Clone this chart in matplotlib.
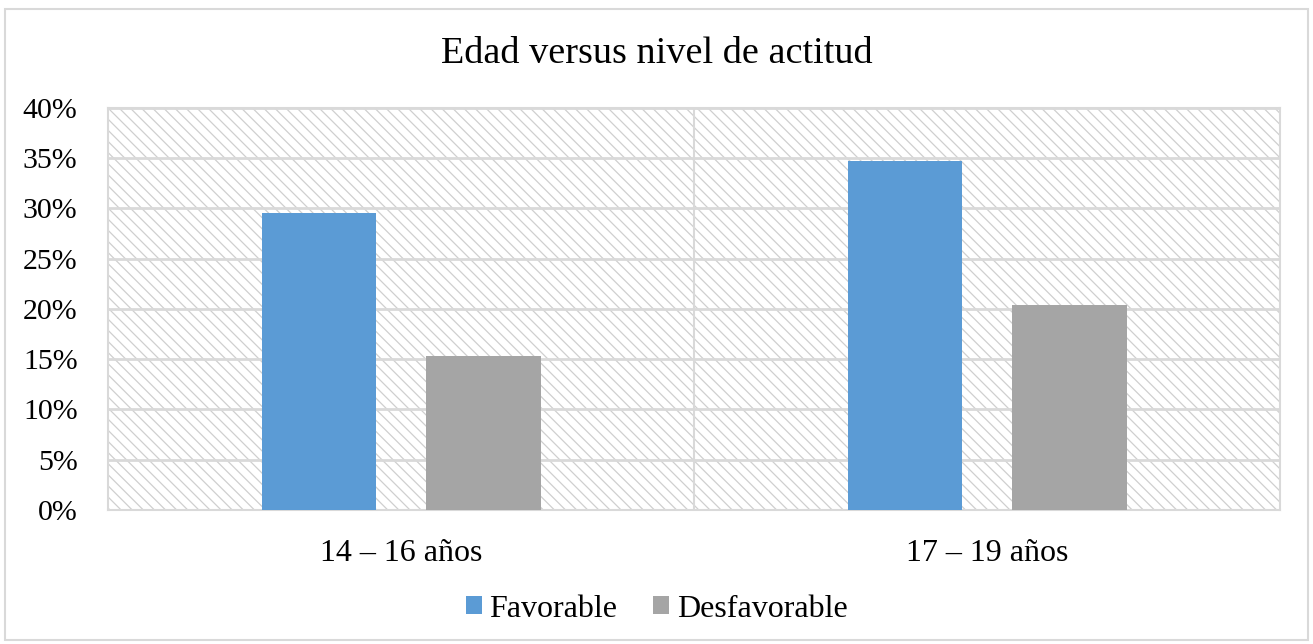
import numpy as np
import matplotlib
matplotlib.use("Agg")
import matplotlib.pyplot as plt
from matplotlib.patches import Rectangle, Patch
from matplotlib.ticker import PercentFormatter

# age groups and attitude levels (percent of respondents)
grupos = ["14 \u2013 16 años", "17 \u2013 19 años"]
favorable = [29.6, 34.7]
desfavorable = [15.3, 20.4]

plt.rcParams["font.family"] = ["Liberation Serif", "DejaVu Serif"]
plt.rcParams["hatch.color"] = "#cfcfcf"
plt.rcParams["hatch.linewidth"] = 0.9

fig = plt.figure(figsize=(13.13, 6.44), dpi=100)
ax = fig.add_axes([0.0823, 0.2081, 0.8926, 0.6242])

# striped plot area background
ax.add_patch(Rectangle((0, 0), 1, 1, transform=ax.transAxes, facecolor="white",
                       edgecolor="#cfcfcf", hatch="\\\\\\", linewidth=0, zorder=0))

x = np.arange(len(grupos))
w = 0.196
off = 0.14
ax.bar(x - off, favorable, w, color="#5B9BD5", zorder=3, label="Favorable")
ax.bar(x + off, desfavorable, w, color="#A5A5A5", zorder=3, label="Desfavorable")

ax.set_xlim(-0.5, 1.5)
ax.set_ylim(0, 40)
ax.set_yticks(np.arange(0, 41, 5))
ax.yaxis.set_major_formatter(PercentFormatter(decimals=0))
ax.set_xticks(x)
ax.set_xticklabels(grupos, fontsize=23)

grid_c = "#d9d9d9"
ax.grid(axis="y", color=grid_c, linewidth=2, zorder=1)
ax.axvline(0.5, color=grid_c, linewidth=1.5, zorder=1)
for s in ax.spines.values():
    s.set_color(grid_c)
    s.set_linewidth(1.5)
ax.tick_params(length=0, colors="black")
ax.tick_params(axis="y", labelsize=21.5, pad=22)
ax.tick_params(axis="x", pad=21)

fig.text(0.5, 0.917, "Edad versus nivel de actitud", ha="center", va="center", fontsize=27.5)

handles = [Patch(facecolor="#5B9BD5"), Patch(facecolor="#A5A5A5")]
fig.legend(handles, ["Favorable", "Desfavorable"], loc="center", bbox_to_anchor=(0.5, 0.054),
           ncol=2, frameon=False, fontsize=23, handlelength=0.5, handleheight=0.5,
           handletextpad=0.25, columnspacing=1.1)

# outer chart border
fig.add_artist(Rectangle((0.004, 0.006), 0.992, 0.98, transform=fig.transFigure,
                         fill=False, edgecolor=grid_c, linewidth=1.5))

fig.savefig("out.png", dpi=100)
